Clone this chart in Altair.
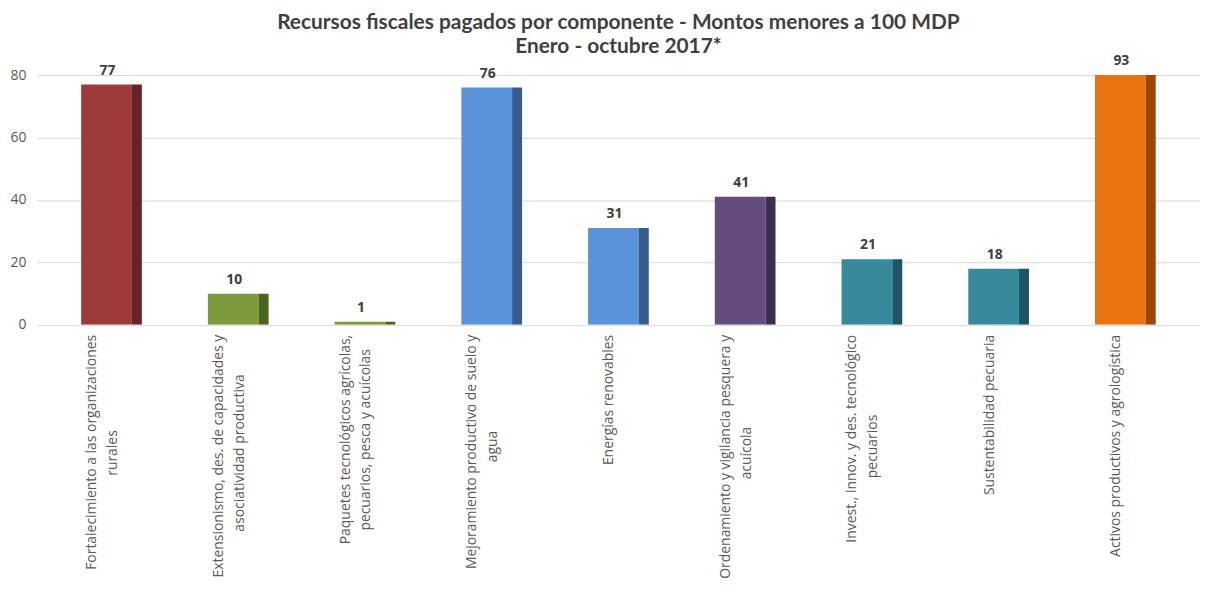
import altair as alt
import pandas as pd

categories = [
    "Fortalecimiento a las organizaciones rurales",
    "Extensionismo, des. de capacidades y asociatividad productiva",
    "Paquetes tecnológicos agrícolas, pecuarios, pesca y acuícolas",
    "Mejoramiento productivo de suelo y agua",
    "Energías renovables",
    "Ordenamiento y vigilancia pesquera y acuícola",
    "Invest., innov. y des. tecnológico pecuarios",
    "Sustentabilidad pecuaria",
    "Activos productivos y agrologística",
]
label_line1 = [
    "Fortalecimiento a las organizaciones",
    "Extensionismo, des. de capacidades y",
    "Paquetes tecnológicos agrícolas,",
    "Mejoramiento productivo de suelo y",
    "Energías renovables",
    "Ordenamiento y vigilancia pesquera y",
    "Invest., innov. y des. tecnológico",
    "Sustentabilidad pecuaria",
    "Activos productivos y agrologística",
]
label_line2 = [
    "rurales",
    "asociatividad productiva",
    "pecuarios, pesca y acuícolas",
    "agua",
    "",
    "acuícola",
    "pecuarios",
    "",
    "",
]
values = [77, 10, 1, 76, 31, 41, 21, 18, 93]
y_ticks = [0, 20, 40, 60, 80]

front_colors = ["#9C3B3A", "#7A9A3C", "#7A9A3C", "#5B93DB", "#5B93DB",
                "#644C7E", "#378A9B", "#378A9B", "#E9730F"]
side_colors = ["#66232A", "#4C641F", "#4C641F", "#365C8E", "#365C8E",
               "#3E2D50", "#1F5465", "#1F5465", "#9A4709"]

df = pd.DataFrame({
    "cat": categories,
    "l1": label_line1,
    "l2": label_line2,
    "v": values,
    "fc": front_colors,
    "sc": side_colors,
    "len1": [len(s) for s in label_line1],
})

FONT = "Open Sans"

x = alt.X("cat:N", sort=categories, axis=None,
          scale=alt.Scale(paddingInner=0.5, paddingOuter=0.339))
yscale = alt.Scale(domain=[0, 80], nice=False, zero=True)

base = alt.Chart(df)

front = base.mark_bar(width=51, xOffset=-5, clip=True).encode(
    x=x,
    y=alt.Y("v:Q", scale=yscale, title=None,
            axis=alt.Axis(values=y_ticks, grid=True, gridColor="#D9D9D9",
                          gridWidth=1, domain=False, ticks=False,
                          labelPadding=11, labelFont=FONT, labelFontSize=14,
                          labelColor="#595959")),
    color=alt.Color("fc:N", scale=None),
)

side = base.mark_bar(width=10, xOffset=25.5, clip=True).encode(
    x=x,
    y=alt.Y("v:Q", scale=yscale),
    color=alt.Color("sc:N", scale=None),
)

vals = base.transform_calculate(vy="min(datum.v, 80)").mark_text(
    font=FONT, fontSize=14, fontWeight="bold", color="#404040",
    baseline="alphabetic", dy=-10, xOffset=-4,
).encode(
    x=x,
    y=alt.Y("vy:Q", scale=yscale),
    text=alt.Text("v:Q"),
)

LAB = dict(font=FONT, fontSize=14, color="#595959", angle=270,
           baseline="middle", xOffset=-9)

cat1 = base.mark_text(
    align="right", dx=-10,
    dy=alt.ExprRef("datum.l2 != '' ? -10.5 : 0"), **LAB
).encode(
    x=x,
    y=alt.datum(0, scale=yscale),
    text="l1:N",
)

cat2 = base.transform_filter("datum.l2 != ''").mark_text(
    align="center", dy=10.5,
    dx=alt.ExprRef("-(10 + datum.len1 * 3.3)"), **LAB
).encode(
    x=x,
    y=alt.datum(0, scale=yscale),
    text="l2:N",
)

chart = alt.layer(front, side, vals, cat1, cat2).properties(
    width=1169,
    height=251,
    title=alt.TitleParams(
        ["Recursos fiscales pagados por componente - Montos menores a 100 MDP",
         "Enero - octubre 2017*"],
        font="Lato", fontSize=21, fontWeight="bold", color="#404040",
        anchor="middle", lineHeight=24, offset=-3,
    ),
    autosize=alt.AutoSizeParams(type="none"),
    padding={"left": 29, "top": 66, "right": 0, "bottom": 262},
).configure_view(stroke=None)

chart.save("out.html", embed_options={"renderer": "svg", "actions": False})
